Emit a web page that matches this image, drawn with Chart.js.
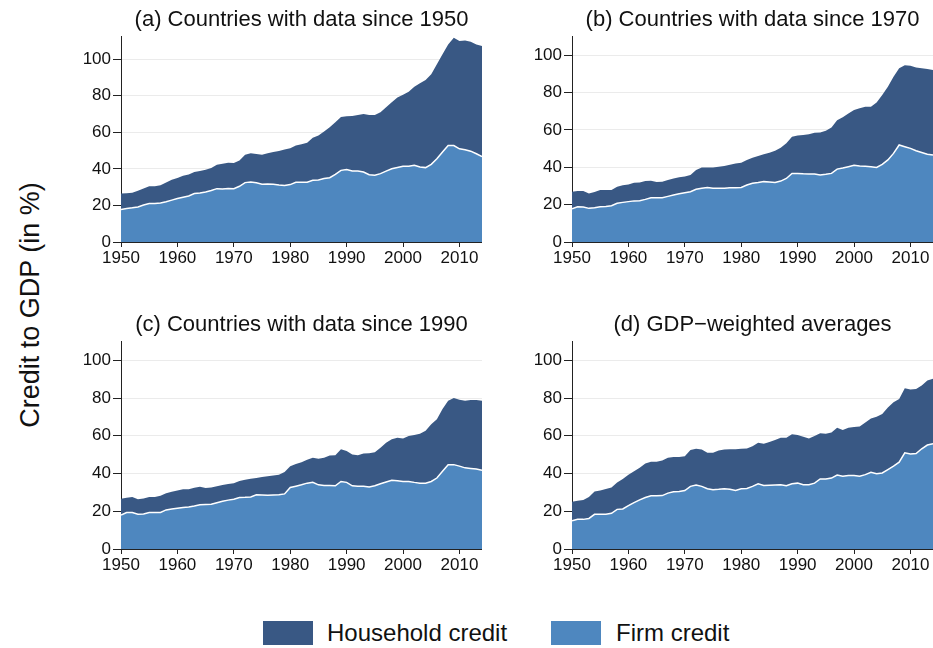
<!DOCTYPE html>
<html>
<head>
<meta charset="utf-8">
<script src="https://cdn.jsdelivr.net/npm/chart.js@4.4.1/dist/chart.umd.min.js"></script>
<style>
  body { margin: 0; background: #fff; width: 933px; height: 648px; overflow: hidden; position: relative;
         font-family: "Liberation Sans", Arial, sans-serif; color: #111; }
  canvas { position: absolute; }
  #ylabel { position: absolute; left: 30px; top: 305px; transform: translate(-50%, -50%) rotate(-90deg);
            font-size: 27px; white-space: nowrap; }
  .lg-box { position: absolute; top: 621px; width: 50px; height: 24px; }
  .lg-text { position: absolute; top: 619px; font-size: 24px; line-height: 28px; white-space: nowrap; }
</style>
</head>
<body>
<canvas id="pa" width="412" height="276" style="left:70px;top:4px"></canvas>
<canvas id="pb" width="412" height="276" style="left:521px;top:4px"></canvas>
<canvas id="pc" width="412" height="278" style="left:70px;top:309px"></canvas>
<canvas id="pd" width="412" height="278" style="left:521px;top:309px"></canvas>

<div id="ylabel">Credit to GDP (in %)</div>
<div class="lg-box" style="left:263px;background:#395884"></div>
<div class="lg-text" style="left:327px">Household credit</div>
<div class="lg-box" style="left:551px;background:#4e87bf"></div>
<div class="lg-text" style="left:616px">Firm credit</div>

<script>
const years = [];
for (let y = 1950; y <= 2014; y++) years.push(y);

// top of the stack = household + firm credit
const totalA = [26.5, 26.7, 27, 28, 29.3, 30.5, 30.5, 31, 32.5, 34,
  35, 36.2, 37, 38.3, 38.8, 39.5, 40.5, 42.3, 42.8, 43.4,
  43.2, 44.6, 47.7, 48.6, 48.2, 47.7, 48.5, 49.2, 49.8, 50.6,
  51.3, 52.8, 53.5, 54.3, 57, 58.3, 60.5, 62.8, 65.5, 68.4,
  68.8, 69, 69.5, 70, 69.5, 69.5, 71, 73.8, 76.4, 79,
  80.6, 82.2, 85, 86.8, 88.7, 91.8, 97.3, 102.7, 108, 111.8,
  110, 110.2, 109.6, 108, 107.2];
const firmA = [17.8, 18.3, 18.7, 19.2, 20.2, 21, 21.1, 21.4, 22, 22.9,
  23.8, 24.5, 25.2, 26.5, 26.8, 27.4, 28.2, 29.2, 29, 29.3,
  29.2, 30.5, 32.5, 32.8, 32.4, 31.6, 31.8, 31.6, 31.2, 30.9,
  31.4, 32.7, 32.7, 32.7, 33.8, 33.9, 34.7, 35.2, 37, 39.2,
  39.6, 38.8, 38.8, 38.3, 36.8, 36.5, 37.4, 38.8, 40.1, 40.8,
  41.4, 41.5, 42, 41, 40.7, 42.5, 45.5, 49.2, 52.8, 52.8,
  51, 50.5, 49.7, 48.3, 46.8];

const totalB = [26.9, 27.3, 27.3, 26, 26.8, 27.8, 27.8, 27.8, 29.6, 30.3,
  30.8, 31.7, 31.8, 32.6, 32.8, 32.1, 32.3, 33.2, 34, 34.6,
  35, 35.8, 38.5, 39.8, 39.8, 39.8, 40.2, 40.6, 41.3, 42,
  42.4, 43.9, 45.1, 46, 46.9, 47.8, 48.8, 50.4, 52.8, 56.3,
  57, 57.2, 57.6, 58.5, 58.6, 59.5, 61.3, 65.2, 66.7, 68.8,
  70.6, 71.5, 72.4, 72.4, 74.7, 78.6, 83, 88.4, 92.9, 94.6,
  94.3, 93.4, 92.9, 92.5, 92];
const firmB = [17.8, 18.9, 18.7, 18, 18.3, 18.9, 19, 19.4, 20.7, 21.2,
  21.6, 22, 22.1, 22.8, 23.7, 23.7, 23.7, 24.4, 25.1, 25.8,
  26.4, 26.9, 28.2, 28.8, 29.2, 28.8, 28.7, 28.8, 29, 29,
  29.2, 30.5, 31.4, 31.8, 32.3, 32.1, 31.9, 32.6, 34, 36.7,
  36.7, 36.5, 36.4, 36.4, 35.8, 36.2, 36.7, 39, 39.6, 40.3,
  41, 40.6, 40.5, 40.3, 39.9, 41.5, 43.9, 47.4, 51.9, 51,
  50.1, 48.8, 47.9, 47, 46.5];

const totalC = [26.6, 27.2, 27.5, 26.4, 26.8, 27.5, 27.6, 28.2, 29.6, 30.4,
  31, 31.6, 31.7, 32.4, 33, 32.3, 32.6, 33.3, 33.9, 34.5,
  34.9, 36, 36.7, 37.2, 37.6, 38.1, 38.5, 38.9, 39.4, 40.8,
  43.9, 45, 46, 47.3, 48.3, 47.8, 48.3, 49.6, 49.7, 52.8,
  51.9, 50.1, 49.7, 50.6, 50.8, 51.3, 53.7, 56.3, 58.1, 59,
  58.6, 59.9, 60.4, 61.1, 62.6, 66.1, 68.8, 74.2, 78.6, 80,
  79.1, 78.6, 79, 79, 78.6];
const firmC = [18, 19.3, 19.3, 18.4, 18.6, 19.3, 19.3, 19.4, 20.7, 21.2,
  21.6, 22, 22.3, 22.8, 23.5, 23.6, 23.7, 24.5, 25.3, 25.9,
  26.4, 27.3, 27.4, 27.6, 28.7, 28.6, 28.5, 28.6, 28.7, 29.2,
  32.6, 33.3, 34, 34.9, 35.3, 34, 33.7, 33.6, 33.5, 35.8,
  35.3, 33.5, 33.3, 33.2, 32.8, 33.5, 34.6, 35.5, 36.4, 36.1,
  35.8, 35.8, 35.3, 34.9, 34.9, 35.8, 37.6, 41.2, 44.7, 44.7,
  43.9, 43, 42.7, 42.4, 41.7];

const totalD = [25.1, 25.5, 26, 27.5, 30.5, 31, 31.8, 32.6, 35.3, 37.1,
  39.4, 41.2, 43, 45.3, 46.2, 46.2, 46.9, 48.3, 48.8, 48.8,
  49.2, 52.4, 53.1, 52.7, 51, 51, 52.2, 52.7, 52.8, 52.9,
  53.1, 53.3, 54.5, 56.3, 55.8, 56.7, 57.8, 59, 59, 60.8,
  60.4, 59.5, 58.6, 59.9, 61.3, 61.1, 61.7, 64.3, 63.1, 64.3,
  64.7, 64.9, 67, 69.2, 70.1, 71.5, 75, 77.7, 79.5, 85.2,
  84.5, 84.8, 86.6, 89.3, 90.2];
const firmD = [15, 15.7, 15.7, 16.2, 18.4, 18.4, 18.4, 18.9, 21, 21.2,
  23, 24.6, 26, 27.3, 28.2, 28.2, 28.3, 29.6, 30.3, 30.5,
  31, 33.2, 33.9, 33.2, 31.9, 31.4, 31.6, 31.9, 31.7, 31,
  31.9, 32.1, 33.2, 34.6, 33.7, 33.8, 33.9, 34, 33.5, 34.6,
  34.9, 34, 34, 34.9, 37.1, 37.1, 37.6, 39.2, 38.5, 39,
  39, 38.5, 39.4, 40.6, 39.9, 40.3, 42.1, 43.9, 46, 51,
  50.4, 50.6, 53.1, 55.1, 55.8];

const titles = [
  "(a) Countries with data since 1950",
  "(b) Countries with data since 1970",
  "(c) Countries with data since 1990",
  "(d) GDP\u2212weighted averages",
];
const yTicks = [0, 20, 40, 60, 80, 100];

const householdColor = "#395884";
const firmColor = "#4e87bf";
const axisColor = "#222";
const font = "'Liberation Sans', Arial, sans-serif";

function toPoints(values) {
  return years.map((yr, i) => ({ x: yr, y: values[i] }));
}

function drawPanel(id, title, firm, total, yMax) {
  const ctx = document.getElementById(id).getContext("2d");
  return new Chart(ctx, {
    type: "line",
    data: {
      datasets: [
        {
          label: "Firm credit",
          data: toPoints(firm),
          backgroundColor: firmColor,
          borderColor: "#ffffff",
          borderWidth: 1.5,
          pointRadius: 0,
          fill: "origin",
        },
        {
          label: "Household credit",
          data: toPoints(total),
          backgroundColor: householdColor,
          borderColor: householdColor,
          borderWidth: 0,
          pointRadius: 0,
          fill: "-1", // area between firm line and total = household
        },
      ],
    },
    options: {
      responsive: false,
      animation: false,
      layout: { padding: 0 },
      plugins: {
        legend: { display: false },
        tooltip: { enabled: false },
        title: {
          display: true,
          fullSize: false, // centre over the plot area, not the canvas
          text: title,
          color: "#111",
          font: { family: font, size: 22, weight: "normal", lineHeight: 1.2 },
          padding: { top: 3, bottom: 3 },
        },
      },
      scales: {
        x: {
          type: "linear",
          min: 1950,
          max: 2014,
          afterBuildTicks: (s) => {
            s.ticks = years.filter((y) => y % 10 === 0).map((v) => ({ value: v }));
          },
          afterFit: (s) => { s.height = 38; },
          ticks: {
            color: "#111",
            font: { family: font, size: 17 },
            padding: 1,
            maxRotation: 0,
            callback: (v) => String(v),
          },
          grid: { drawOnChartArea: false, tickLength: 5, tickColor: axisColor },
          border: { color: axisColor, width: 1 },
        },
        y: {
          min: 0,
          max: yMax,
          afterBuildTicks: (s) => {
            s.ticks = yTicks.map((v) => ({ value: v }));
          },
          afterFit: (s) => { s.width = 51; },
          ticks: {
            color: "#111",
            font: { family: font, size: 17 },
            padding: 2,
          },
          grid: { color: "#ebebeb", lineWidth: 1, tickLength: 8, tickColor: axisColor },
          border: { color: axisColor, width: 1 },
        },
      },
    },
  });
}

drawPanel("pa", titles[0], firmA, totalA, 112.5);
drawPanel("pb", titles[1], firmB, totalB, 110);
drawPanel("pc", titles[2], firmC, totalC, 110);
drawPanel("pd", titles[3], firmD, totalD, 110);
</script>
</body>
</html>
